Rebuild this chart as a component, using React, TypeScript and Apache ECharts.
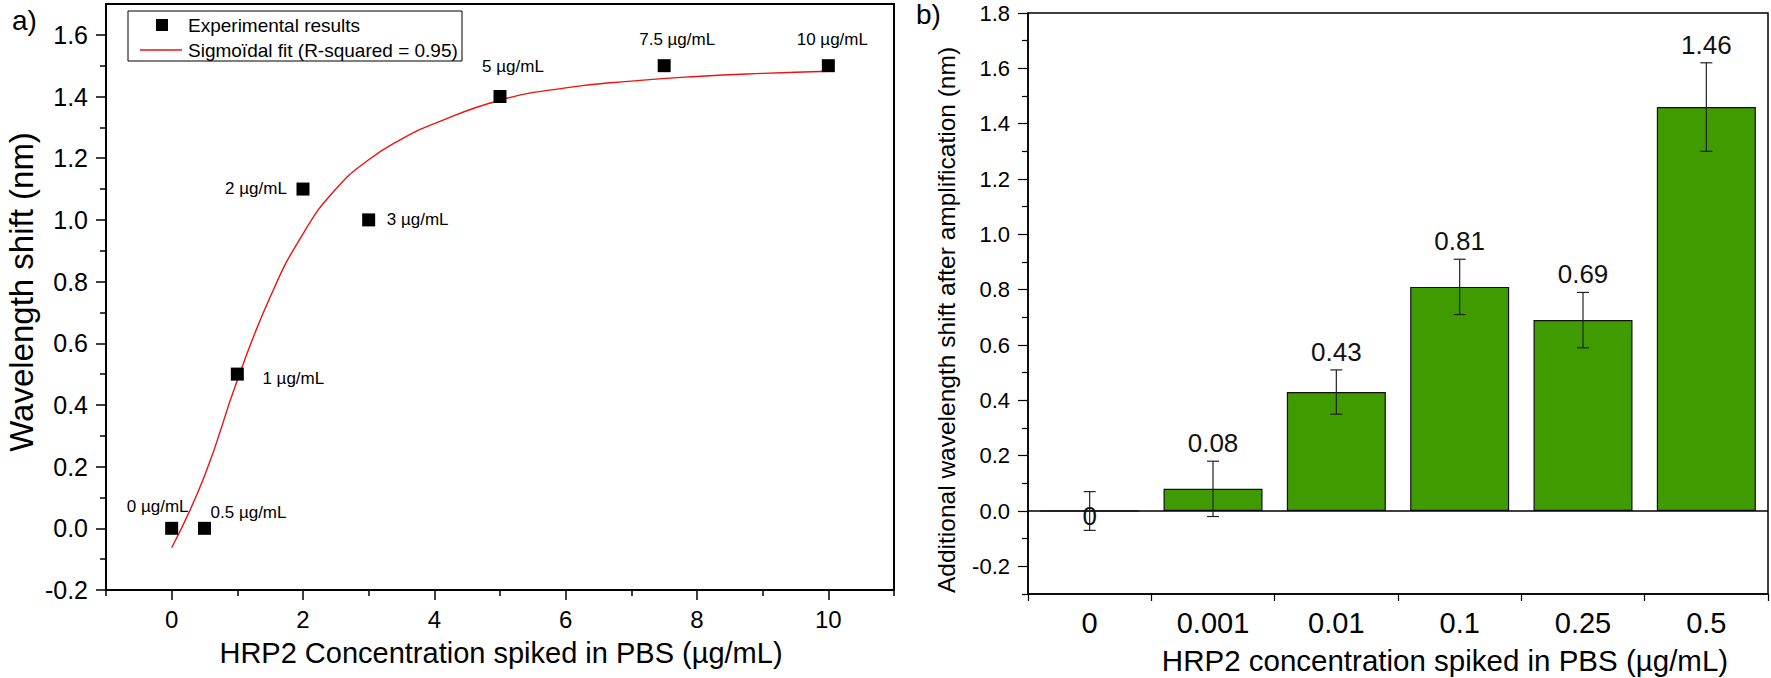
import React, { useEffect, useRef } from "react";
import * as echarts from "echarts";

// ---------- Panel a) data ----------
const expX = [0, 0.5, 1, 2, 3, 5, 7.5, 10];
const expY = [0, 0, 0.5, 1.1, 1.0, 1.4, 1.5, 1.5];
const expLabels = ["0 µg/mL", "0.5 µg/mL", "1 µg/mL", "2 µg/mL", "3 µg/mL", "5 µg/mL", "7.5 µg/mL", "10 µg/mL"];
const fitX = [0, 0.5, 1, 1.5, 2, 2.5, 3, 3.5, 4, 5, 6, 7, 8, 9, 10];
const fitY = [-0.063, 0.17, 0.48, 0.75, 0.955, 1.1, 1.195, 1.262, 1.312, 1.388, 1.428, 1.45, 1.465, 1.475, 1.482];
const leftXTicks = [0, 2, 4, 6, 8, 10];
const leftXMinor = [-1, 1, 3, 5, 7, 9, 11];
const leftYTicks = [-0.2, 0, 0.2, 0.4, 0.6, 0.8, 1.0, 1.2, 1.4, 1.6];
const leftYMinor = [-0.1, 0.1, 0.3, 0.5, 0.7, 0.9, 1.1, 1.3, 1.5];

// ---------- Panel b) data ----------
const barCats = ["0", "0.001", "0.01", "0.1", "0.25", "0.5"];
const barVals = [0, 0.08, 0.43, 0.81, 0.69, 1.46];
const barErr = [0.07, 0.1, 0.08, 0.1, 0.1, 0.16];
const barLabels = ["0", "0.08", "0.43", "0.81", "0.69", "1.46"];
const rightYTicks = [-0.2, 0, 0.2, 0.4, 0.6, 0.8, 1.0, 1.2, 1.4, 1.6, 1.8];
const rightYMinor = [-0.3, -0.1, 0.1, 0.3, 0.5, 0.7, 0.9, 1.1, 1.3, 1.5, 1.7];

const FONT = "'Liberation Sans', Arial, Helvetica, sans-serif";

// label placement (offset of label centre from point centre)
const expLabelOffsets = [
  [-14, -22], [44, -16], [56, 4], [-47, -1], [49, 0], [13, -30], [13, -26], [4, -26],
];

export default function App() {
  const ref = useRef<HTMLDivElement>(null);
  useEffect(() => {
    if (!ref.current) return;
    const chart = echarts.init(ref.current, undefined, { renderer: "svg" });
    const black = "#000";
    const minorAxis = (type: "x" | "y", grid: number, min: number, max: number, vals: number[], width: number) => ({
      type: "value", gridIndex: grid, min, max, position: type === "x" ? "bottom" : "left",
      axisLine: { show: false, onZero: false },
      axisTick: { show: true, inside: false, length: 6, lineStyle: { color: black, width }, customValues: vals },
      axisLabel: { show: false },
      splitLine: { show: false },
    });
    const option: any = {
      animation: false,
      backgroundColor: "#fff",
      textStyle: { fontFamily: FONT, color: black },
      grid: [
        { left: 106, top: 4, width: 788, height: 586, show: true, borderColor: black, borderWidth: 2, backgroundColor: "transparent" },
        { left: 1028, top: 13, width: 740, height: 581, show: true, borderColor: black, borderWidth: 1.5, backgroundColor: "transparent" },
      ],
      xAxis: [
        {
          type: "value", gridIndex: 0, min: -1, max: 11, position: "bottom",
          axisLine: { show: true, onZero: false, lineStyle: { color: black, width: 2 } },
          axisTick: { show: true, inside: false, length: 10, lineStyle: { color: black, width: 1.5 }, customValues: leftXTicks },
          axisLabel: { show: true, customValues: leftXTicks, fontSize: 24, color: black, margin: 17 },
          splitLine: { show: false },
        },
        minorAxis("x", 0, -1, 11, leftXMinor, 1.5),
        {
          type: "category", gridIndex: 1, data: barCats, position: "bottom", boundaryGap: true,
          axisLine: { show: true, onZero: false, lineStyle: { color: black, width: 1.5 } },
          axisTick: { show: true, inside: false, length: 7, interval: 0, alignWithLabel: false, lineStyle: { color: black, width: 1.2 } },
          axisLabel: { show: true, interval: 0, fontSize: 29, color: black, margin: 14 },
          splitLine: { show: false },
        },
      ],
      yAxis: [
        {
          type: "value", gridIndex: 0, min: -0.2, max: 1.7, position: "left",
          axisLine: { show: true, onZero: false, lineStyle: { color: black, width: 2 } },
          axisTick: { show: true, inside: false, length: 10, lineStyle: { color: black, width: 1.5 }, customValues: leftYTicks },
          axisLabel: { show: true, customValues: leftYTicks, fontSize: 25, color: black, margin: 18, formatter: (v: number) => v.toFixed(1) },
          splitLine: { show: false },
        },
        minorAxis("y", 0, -0.2, 1.7, leftYMinor, 1.5),
        {
          type: "value", gridIndex: 1, min: -0.3, max: 1.8, position: "left",
          axisLine: { show: true, onZero: false, lineStyle: { color: black, width: 1.5 } },
          axisTick: { show: true, inside: false, length: 10, lineStyle: { color: black, width: 1.2 }, customValues: rightYTicks },
          axisLabel: { show: true, customValues: rightYTicks, fontSize: 22, color: black, margin: 18, formatter: (v: number) => v.toFixed(1) },
          splitLine: { show: false },
        },
        minorAxis("y", 1, -0.3, 1.8, rightYMinor, 1.2),
      ],
      series: [
        {
          name: "Sigmoïdal fit (R-squared = 0.95)",
          type: "line", xAxisIndex: 0, yAxisIndex: 0,
          data: fitX.map((x, i) => [x, fitY[i]]),
          smooth: 0.5, showSymbol: false, symbol: "none",
          lineStyle: { color: "#f01010", width: 1.4 },
          z: 3,
        },
        {
          name: "Experimental results",
          type: "scatter", xAxisIndex: 0, yAxisIndex: 0,
          symbol: "rect", symbolSize: 13,
          itemStyle: { color: "#000", opacity: 1 },
          data: expX.map((x, i) => ({
            value: [x, expY[i]],
            label: {
              show: true, formatter: expLabels[i], position: "inside",
              offset: expLabelOffsets[i], fontSize: 17, color: "#000",
            },
          })),
          z: 4,
        },
        {
          type: "bar", xAxisIndex: 2, yAxisIndex: 2,
          data: barVals, barWidth: 99,
          itemStyle: { color: "#3f9b00", borderColor: "#111", borderWidth: 1.2 },
          markLine: {
            silent: true, symbol: "none", label: { show: false },
            lineStyle: { color: "#000", width: 1.6, type: "solid" },
            data: [{ yAxis: 0 }],
          },
        },
        {
          type: "custom", xAxisIndex: 2, yAxisIndex: 2,
          data: barCats.map((_, i) => [i, barVals[i] - barErr[i], barVals[i] + barErr[i], barVals[i]]),
          encode: { x: 0, y: [1, 2] },
          renderItem: (params: any, api: any) => {
            const i = api.value(0);
            const lo = api.coord([i, api.value(1)]);
            const hi = api.coord([i, api.value(2)]);
            const mid = api.coord([i, api.value(3)]);
            const cap = 6;
            const ls = { stroke: "#222", lineWidth: 1.2 };
            const label = barLabels[params.dataIndex];
            const atZero = api.value(3) === 0;
            return {
              type: "group",
              children: [
                { type: "line", shape: { x1: hi[0], y1: hi[1], x2: lo[0], y2: lo[1] }, style: ls },
                { type: "line", shape: { x1: hi[0] - cap, y1: hi[1], x2: hi[0] + cap, y2: hi[1] }, style: ls },
                { type: "line", shape: { x1: lo[0] - cap, y1: lo[1], x2: lo[0] + cap, y2: lo[1] }, style: ls },
                {
                  type: "text",
                  x: hi[0], y: atZero ? mid[1] + 5 : hi[1] - 5,
                  style: {
                    text: label, fontSize: 26, fill: "#111", fontFamily: FONT,
                    align: "center", verticalAlign: atZero ? "middle" : "bottom",
                  },
                },
              ],
            };
          },
          z: 5,
        },
      ],
      graphic: [
        { type: "text", left: 12, top: 6, style: { text: "a)", fontSize: 28, fill: "#000", fontFamily: FONT } },
        { type: "text", left: 916, top: 0, style: { text: "b)", fontSize: 28, fill: "#000", fontFamily: FONT } },
        // axis titles
        { type: "text", x: 21, y: 292, rotation: Math.PI / 2, style: { text: "Wavelength shift (nm)", fontSize: 33, fill: "#000", fontFamily: FONT, align: "center", verticalAlign: "middle" } },
        { type: "text", x: 501, y: 653, style: { text: "HRP2 Concentration spiked in PBS (µg/mL)", fontSize: 29, fill: "#000", fontFamily: FONT, align: "center", verticalAlign: "middle" } },
        { type: "text", x: 946, y: 320, rotation: Math.PI / 2, style: { text: "Additional wavelength shift after amplification (nm)", fontSize: 24.5, fill: "#000", fontFamily: FONT, align: "center", verticalAlign: "middle" } },
        { type: "text", x: 1445, y: 660, style: { text: "HRP2 concentration spiked in PBS (µg/mL)", fontSize: 29.5, fill: "#000", fontFamily: FONT, align: "center", verticalAlign: "middle" } },
        // legend box for panel a)
        { type: "rect", shape: { x: 128, y: 11, width: 334, height: 50 }, style: { fill: "#fff", stroke: "#000", lineWidth: 1 }, z: 10 },
        { type: "rect", shape: { x: 156, y: 19, width: 12, height: 12 }, style: { fill: "#000" }, z: 11 },
        { type: "text", x: 188, y: 25, style: { text: "Experimental results", fontSize: 19, fill: "#000", fontFamily: FONT, verticalAlign: "middle" }, z: 11 },
        { type: "line", shape: { x1: 140, y1: 50, x2: 182, y2: 50 }, style: { stroke: "#f01010", lineWidth: 1.4 }, z: 11 },
        { type: "text", x: 188, y: 50, style: { text: "Sigmoïdal fit (R-squared = 0.95)", fontSize: 19, fill: "#000", fontFamily: FONT, verticalAlign: "middle" }, z: 11 },
      ],
    };
    chart.setOption(option);
    return () => chart.dispose();
  }, []);
  return <div ref={ref} style={{ position: "absolute", left: 0, top: 0, width: 1771, height: 678 }} />;
}
